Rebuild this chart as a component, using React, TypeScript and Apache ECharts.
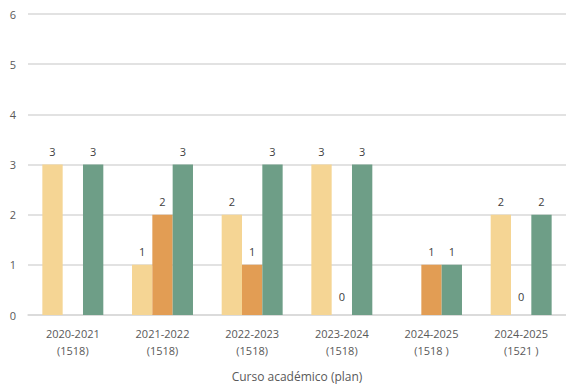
import React, { useEffect, useRef } from "react";
import * as echarts from "echarts";

const categories = [
  "2020-2021\n(1518)",
  "2021-2022\n(1518)",
  "2022-2023\n(1518)",
  "2023-2024\n(1518)",
  "2024-2025\n(1518 )",
  "2024-2025\n(1521 )",
];
const seriesA: (number | null)[] = [3, 1, 2, 3, null, 2];
const seriesB: (number | null)[] = [null, 2, 1, 0, 1, 0];
const seriesC: (number | null)[] = [3, 3, 3, 3, 1, 2];
const colors = ["#F5D594", "#E29D54", "#6E9E87"];
const xTitle = "Curso académico (plan)";

export default function App() {
  const ref = useRef<HTMLDivElement>(null);
  useEffect(() => {
    if (!ref.current) return;
    const chart = echarts.init(ref.current, undefined, { renderer: "svg" });
    const font = "'Open Sans', 'Noto Sans', sans-serif";
    const mk = (name: string, data: (number | null)[], color: string) => ({
      name,
      type: "bar",
      data: data.map((v) =>
        v === 0
          ? { value: v, label: { distance: 13 } }
          : { value: v }
      ),
      itemStyle: { color },
      barGap: "0%",
      barCategoryGap: "32%",
      label: {
        show: true,
        position: "top",
        distance: 8,
        color: "#404040",
        fontSize: 11,
        fontFamily: font,
      },
    });
    chart.setOption({
      animation: false,
      textStyle: { fontFamily: font },
      grid: { left: 28, top: 14, width: 542, bottom: 70, containLabel: false },
      xAxis: {
        type: "category",
        data: categories,
        axisTick: { show: false },
        axisLine: { lineStyle: { color: "#D9D9D9", width: 1.5 } },
        axisLabel: {
          color: "#595959",
          fontSize: 11,
          lineHeight: 17,
          margin: 10,
          fontFamily: font,
          interval: 0,
        },
        name: xTitle,
        nameLocation: "middle",
        nameGap: 55,
        nameTextStyle: { color: "#595959", fontSize: 12, fontFamily: font },
      },
      yAxis: {
        type: "value",
        min: 0,
        max: 6,
        interval: 1,
        axisLine: { show: false },
        axisTick: { show: false },
        splitLine: { lineStyle: { color: "#D9D9D9", width: 1.5 } },
        axisLabel: { color: "#595959", fontSize: 11, margin: 12, fontFamily: font },
      },
      series: [
        mk("A", seriesA, colors[0]),
        mk("B", seriesB, colors[1]),
        mk("C", seriesC, colors[2]),
      ],
    });
    return () => chart.dispose();
  }, []);
  return (
    <div
      ref={ref}
      style={{ position: "absolute", left: 0, top: 0, width: 566, height: 387 }}
    />
  );
}
